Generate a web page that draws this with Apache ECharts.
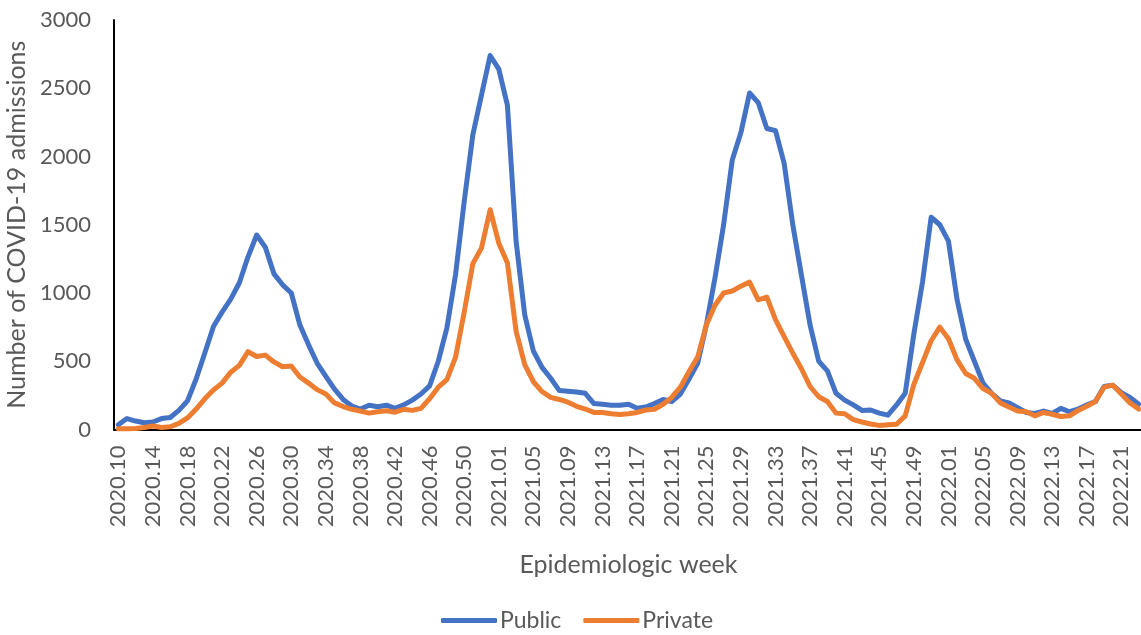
<!DOCTYPE html>
<html>
<head>
<meta charset="utf-8">
<title>COVID-19 admissions</title>
<script src="https://cdn.jsdelivr.net/npm/echarts@6/dist/echarts.min.js"></script>
<style>
  html, body { margin: 0; padding: 0; background: #fff; }
  #chart { width: 1141px; height: 635px; }
</style>
</head>
<body>
<div id="chart"></div>
<script>
const weeks = [
  '2020.10', '2020.11', '2020.12', '2020.13', '2020.14', '2020.15', '2020.16', '2020.17', '2020.18', '2020.19',
  '2020.20', '2020.21', '2020.22', '2020.23', '2020.24', '2020.25', '2020.26', '2020.27', '2020.28', '2020.29',
  '2020.30', '2020.31', '2020.32', '2020.33', '2020.34', '2020.35', '2020.36', '2020.37', '2020.38', '2020.39',
  '2020.40', '2020.41', '2020.42', '2020.43', '2020.44', '2020.45', '2020.46', '2020.47', '2020.48', '2020.49',
  '2020.50', '2020.51', '2020.52', '2020.53',
  '2021.01', '2021.02', '2021.03', '2021.04', '2021.05', '2021.06', '2021.07', '2021.08', '2021.09', '2021.10',
  '2021.11', '2021.12', '2021.13', '2021.14', '2021.15', '2021.16', '2021.17', '2021.18', '2021.19', '2021.20',
  '2021.21', '2021.22', '2021.23', '2021.24', '2021.25', '2021.26', '2021.27', '2021.28', '2021.29', '2021.30',
  '2021.31', '2021.32', '2021.33', '2021.34', '2021.35', '2021.36', '2021.37', '2021.38', '2021.39', '2021.40',
  '2021.41', '2021.42', '2021.43', '2021.44', '2021.45', '2021.46', '2021.47', '2021.48', '2021.49', '2021.50',
  '2021.51', '2021.52',
  '2022.01', '2022.02', '2022.03', '2022.04', '2022.05', '2022.06', '2022.07', '2022.08', '2022.09', '2022.10',
  '2022.11', '2022.12', '2022.13', '2022.14', '2022.15', '2022.16', '2022.17', '2022.18', '2022.19', '2022.20',
  '2022.21', '2022.22', '2022.23'
]

const publicAdm = [
  35, 80, 62, 50, 55, 80, 88, 140, 210, 370,
  560, 755, 860, 955, 1075, 1265, 1425, 1335, 1140, 1060,
  1000, 765, 620, 485, 390, 295, 220, 172, 150, 178,
  167, 178, 155, 180, 215, 260, 320, 500, 745, 1135,
  1670, 2160, 2450, 2740,
  2640, 2375, 1380, 840, 575, 455, 375, 285, 280, 275,
  265, 190, 185, 178, 178, 185, 155, 165, 190, 220,
  205, 260, 370, 485, 765, 1110, 1500, 1975, 2175, 2465,
  2395, 2205, 2190, 1950, 1500, 1130, 765, 500, 430, 265,
  215, 180, 140, 143, 120, 105, 180, 265, 700, 1080,
  1555, 1500,
  1380, 950, 660, 500, 340, 265, 210, 195, 160, 125,
  118, 135, 118, 155, 130, 150, 180, 205, 315, 325,
  270, 235, 185
]

const privateAdm = [
  5, 5, 8, 15, 25, 15, 20, 45, 85, 150,
  225, 290, 340, 420, 470, 570, 535, 545, 495, 460,
  465, 385, 340, 292, 260, 195, 168, 148, 135, 120,
  130, 138, 127, 148, 140, 155, 225, 310, 365, 530,
  860, 1215, 1330, 1610,
  1365, 1220, 720, 475, 350, 278, 235, 220, 200, 170,
  150, 125, 125, 115, 110, 115, 125, 143, 148, 185,
  235, 310, 425, 530, 765, 910, 1000, 1015, 1050, 1080,
  950, 970, 805, 680, 560, 445, 315, 240, 205, 120,
  115, 72, 55, 40, 30, 35, 38, 100, 330, 490,
  650, 750,
  665, 510, 410, 375, 300, 265, 195, 165, 135, 130,
  100, 125, 112, 95, 100, 140, 170, 205, 310, 325,
  260, 195, 150
]

const FONT = 'Lato'
const GREY = '#595959'

const chart = echarts.init(document.getElementById('chart'), null, { renderer: 'canvas' })

function lineSeries(name, data, color) {
  return {
    name,
    type: 'line',
    data,
    showSymbol: false,
    symbol: 'none',
    smooth: false,
    color,
    lineStyle: { width: 5, color, cap: 'round', join: 'round' }
  }
}

chart.setOption({
  animation: false,
  backgroundColor: '#fff',
  textStyle: { fontFamily: FONT },
  grid: { left: 114, right: -2, top: 20, bottom: 205.5, outerBoundsMode: 'none', containLabel: false },
  legend: {
    bottom: 3,
    left: 441,
    padding: 0,
    icon: 'roundRect',
    itemWidth: 56,
    itemHeight: 5,
    itemGap: 22,
    textStyle: { color: GREY, fontSize: 23, fontFamily: FONT, padding: [0, 0, 0, -2] },
    data: ['Public', 'Private']
  },
  xAxis: {
    type: 'category',
    data: weeks,
    boundaryGap: true,
    name: 'Epidemiologic week',
    nameLocation: 'middle',
    nameGap: 123,
    nameTextStyle: { color: GREY, fontSize: 25, fontFamily: FONT },
    axisLine: { show: true, lineStyle: { color: '#000', width: 2 } },
    axisTick: { show: false },
    axisLabel: { interval: 3, rotate: 90, margin: 16, color: GREY, fontSize: 22, fontFamily: FONT }
  },
  yAxis: {
    type: 'value',
    min: 0,
    max: 3000,
    interval: 500,
    name: 'Number of COVID-19 admissions',
    nameLocation: 'middle',
    nameGap: 78,
    nameTextStyle: { color: GREY, fontSize: 25, fontFamily: FONT },
    axisLine: { show: true, lineStyle: { color: '#000', width: 2 } },
    axisTick: { show: false },
    splitLine: { show: false },
    axisLabel: { margin: 23, color: GREY, fontSize: 22, fontFamily: FONT, formatter: (v) => String(v) }
  },
  series: [
    lineSeries('Public', publicAdm, '#4472C4'),
    lineSeries('Private', privateAdm, '#ED7D31')
  ]
})
</script>
</body>
</html>
